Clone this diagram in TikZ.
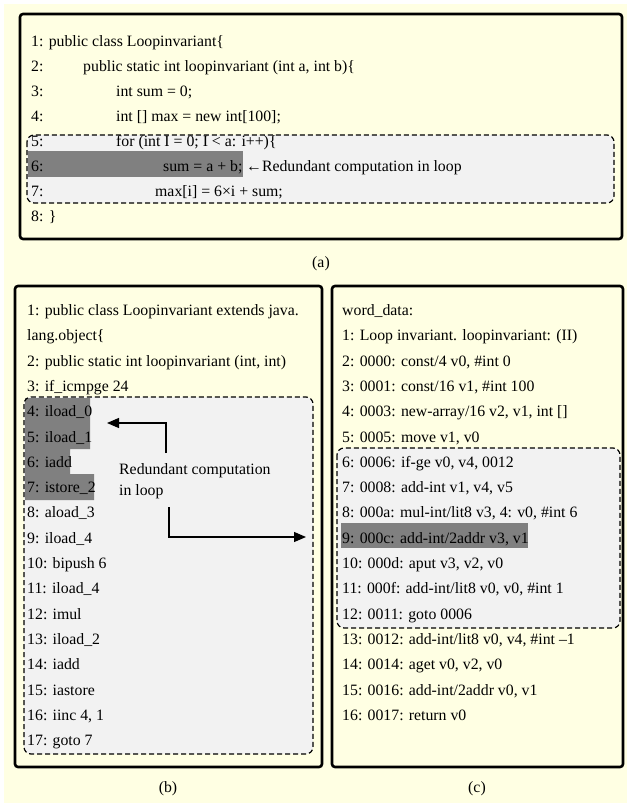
\documentclass[tikz,border=0pt]{standalone}
\usepackage{fontspec}
\setmainfont{Liberation Serif}
\usetikzlibrary{arrows.meta}
\definecolor{bgyellow}{RGB}{255,255,227}
\definecolor{loopgray}{RGB}{242,242,242}
\definecolor{hlgray}{RGB}{128,128,128}
\begin{document}
\begin{tikzpicture}[x=1pt,y=-1pt,
  code/.style={anchor=base west,inner sep=0pt,font=\fontsize{15.8}{19}\selectfont},
  caption/.style={anchor=base,inner sep=0pt,font=\fontsize{15.8}{19}\selectfont},
  frame/.style={draw=black,line width=2.6pt,rounded corners=3pt,fill=bgyellow},
  loopfill/.style={fill=loopgray,rounded corners=7pt},
  loopline/.style={draw=black,line width=1.2pt,dash pattern=on 5pt off 3pt,rounded corners=7pt},
  hl/.style={fill=hlgray},
  arr/.style={draw=black,line width=1.2pt,-{Triangle[length=12pt,width=10pt]}}]
\useasboundingbox (0,0) rectangle (627,803);
\fill[white] (0,0) rectangle (627,803);
\fill[bgyellow] (4,4) rectangle (627,803);

% ---------------- (a) ----------------
\path[frame] (20,14) rectangle (622,239);
\path[loopfill] (27,135) rectangle (614,203);
\fill[hl] (28,151) rectangle (243,177);
\path[loopline] (27,135) rectangle (614,203);
\node[code] (a1) at (31,46.5) {1: public class Loopinvariant\{};
\node[code] (a2n) at (31,71.5) {2:};
\node[code] (a2) at (83,71.5) {public static int loopinvariant (int a, int b)\{};
\node[code] (a3n) at (31,96.5) {3:};
\node[code] (a3) at (116,96.5) {int sum = 0;};
\node[code] (a4n) at (31,121.5) {4:};
\node[code] (a4) at (116,121.5) {int [] max = new int[100];};
\node[code] (a5n) at (31,146.5) {5:};
\node[code] (a5) at (116,146.5) {for (int I = 0; I < a: i++)\{};
\node[code] (a6n) at (31,171.5) {6:};
\node[code] (a6) at (163,171.5) {sum = a + b;};
\node[code] (a6c) at (246,171.5) {←Redundant computation in loop};
\node[code] (a7n) at (31,196.5) {7:};
\node[code] (a7) at (155,196.5) {max[i] = 6×i + sum;};
\node[code] (a8) at (31,221.5) {8: \}};
\node[caption] (capa) at (321,267) {(a)};

% ---------------- (b) ----------------
\path[frame] (15,286) rectangle (322,767);
\path[loopfill] (24,397) rectangle (313,754);
\fill[hl] (25,398) -- (90,398) -- (90,449) -- (70,449) -- (70,474) -- (94,474) -- (94,500) -- (25,500) -- cycle;
\path[loopline] (24,397) rectangle (313,754);
\foreach \t [count=\k from 0] in {
  1: public class Loopinvariant extends java.,
  lang.object\{,
  {2: public static int loopinvariant (int, int)},
  3: if\_icmpge 24,
  4: iload\_0,
  5: iload\_1,
  6: iadd,
  7: istore\_2,
  8: aload\_3,
  9: iload\_4,
  10: bipush 6,
  11: iload\_4,
  12: imul,
  13: iload\_2,
  14: iadd,
  15: iastore,
  {16: iinc 4, 1},
  17: goto 7}
  \node[code] (b\k) at (27,315.5+25.3*\k) {\t};
\node[code] (blab1) at (119,474.5) {Redundant computation};
\node[code] (blab2) at (119,495.5) {in loop};
\coordinate (bup) at (166,453);
\coordinate (bupc) at (166,423);
\coordinate (buptip) at (107,423);
\coordinate (bdn) at (169,507);
\coordinate (bdnc) at (169,537);
\coordinate (bdntip) at (306,537);
\draw[arr] (bup) -- (bupc) -- (buptip);
\draw[arr] (bdn) -- (bdnc) -- (bdntip);
\node[caption] (capb) at (168,792) {(b)};

% ---------------- (c) ----------------
\path[frame] (332,286) rectangle (623,767);
\path[loopfill] (337,448) rectangle (620,628);
\fill[hl] (341,523) rectangle (528,548);
\path[loopline] (337,448) rectangle (620,628);
\foreach \t [count=\k from 0] in {
  word\_data:,
  1: Loop invariant. loopinvariant: (II),
  {2: 0000: const/4 v0, \#int 0},
  {3: 0001: const/16 v1, \#int 100},
  {4: 0003: new-array/16 v2, v1, int []},
  {5: 0005: move v1, v0},
  {6: 0006: if-ge v0, v4, 0012},
  {7: 0008: add-int v1, v4, v5},
  {8: 000a: mul-int/lit8 v3, 4: v0, \#int 6},
  {9: 000c: add-int/2addr v3, v1},
  {10: 000d: aput v3, v2, v0},
  {11: 000f: add-int/lit8 v0, v0, \#int 1},
  12: 0011: goto 0006,
  {13: 0012: add-int/lit8 v0, v4, \#int –1},
  {14: 0014: aget v0, v2, v0},
  {15: 0016: add-int/2addr v0, v1},
  16: 0017: return v0}
  \node[code] (c\k) at (342,315.5+25.3*\k) {\t};
\node[caption] (capc) at (477,792) {(c)};
\end{tikzpicture}
\end{document}
